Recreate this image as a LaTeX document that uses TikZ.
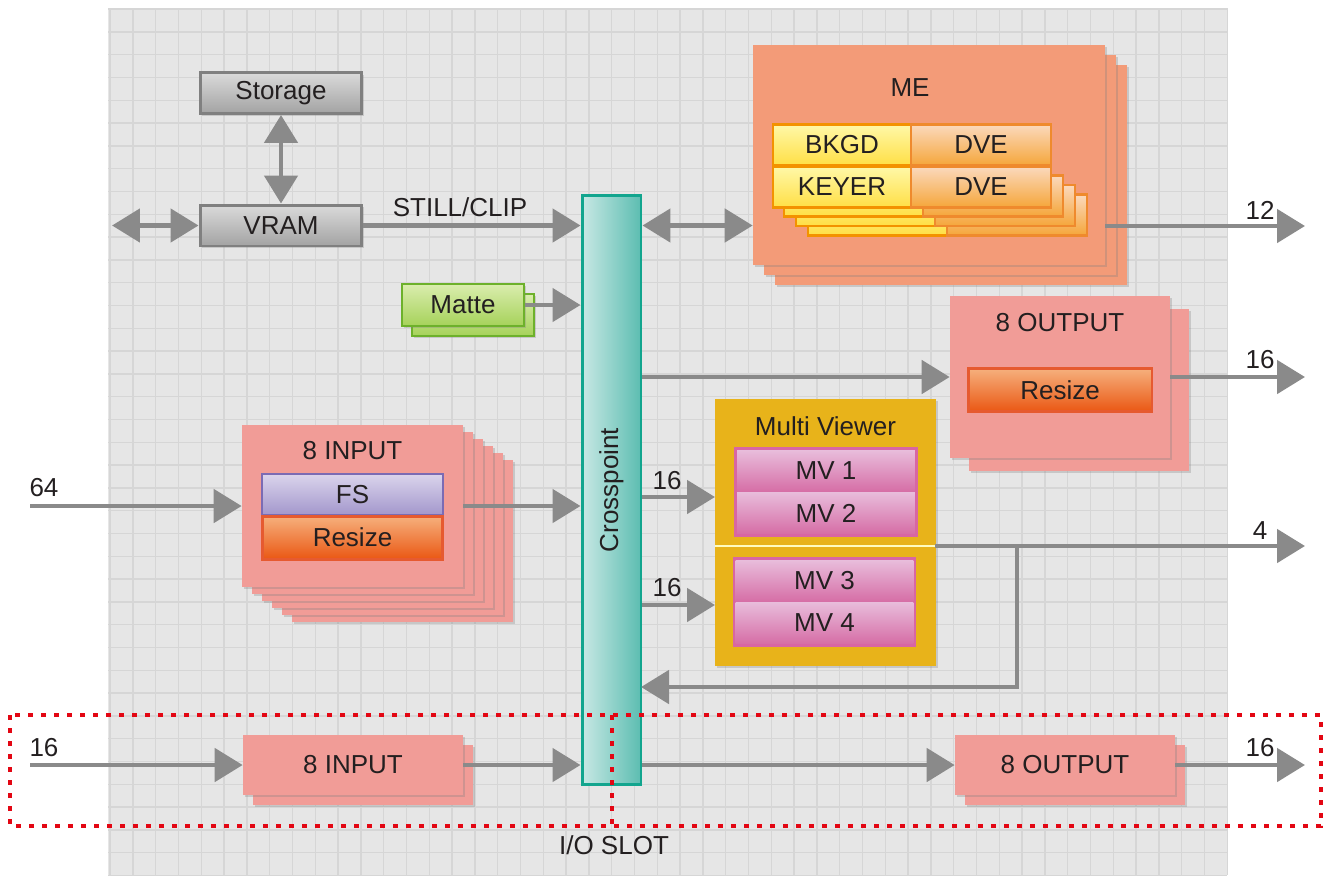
\documentclass[tikz,border=0pt]{standalone}
\usepackage{fontspec}
\setmainfont{Liberation Sans}
\usetikzlibrary{arrows.meta,shadows}
\definecolor{panel}{HTML}{E6E6E6}
\definecolor{gridc}{HTML}{D6D6D6}
\definecolor{ink}{HTML}{231F20}
\definecolor{arrgray}{HTML}{8A8A8A}
\definecolor{grayA}{HTML}{DADADA}
\definecolor{grayB}{HTML}{A3A3A3}
\definecolor{grayedge}{HTML}{808080}
\definecolor{xpA}{HTML}{C8E8E4}
\definecolor{xpB}{HTML}{5CBDB1}
\definecolor{xpedge}{HTML}{12A58E}
\definecolor{mefill}{HTML}{F39B78}
\definecolor{pinkfill}{HTML}{F19C97}
\definecolor{mvfill}{HTML}{E8B31A}
\definecolor{mvA}{HTML}{E8BCDB}
\definecolor{mvB}{HTML}{D66EA6}
\definecolor{mvedge}{HTML}{D866A3}
\definecolor{fsA}{HTML}{DAD4EC}
\definecolor{fsB}{HTML}{A397CC}
\definecolor{fsedge}{HTML}{7B6BB4}
\definecolor{rsA}{HTML}{F6B07D}
\definecolor{rsB}{HTML}{EA5814}
\definecolor{rsedge}{HTML}{E65A30}
\definecolor{keyA}{HTML}{FFF8A8}
\definecolor{keyB}{HTML}{FFDF45}
\definecolor{keyedge}{HTML}{F39200}
\definecolor{dveA}{HTML}{FBD9BD}
\definecolor{dveB}{HTML}{F5A63A}
\definecolor{dveedge}{HTML}{EF8A2D}
\definecolor{matA}{HTML}{DAEDAE}
\definecolor{matB}{HTML}{A6D25A}
\definecolor{matedge}{HTML}{6DB12B}
\definecolor{slotred}{HTML}{E30613}
\begin{document}
\begin{tikzpicture}[
	x=0.02cm, y=-0.02cm,
	font=\fontsize{14.8}{17}\selectfont,
	text=ink,
	every node/.style={inner sep=0pt},
	shd/.style={drop shadow={opacity=0.3,shadow xshift=1.3pt,shadow yshift=-1.3pt}},
	graybox/.style={draw=grayedge, line width=1.7pt, top color=grayA, bottom color=grayB, minimum width=3.24cm, minimum height=0.82cm, shd},
	xpbox/.style={draw=xpedge, line width=1.7pt, left color=xpA, right color=xpB, minimum width=1.18cm, minimum height=11.8cm},
	mecol/.style={fill=mefill, shd},
	pinkcol/.style={fill=pinkfill, shd},
	keycol/.style={draw=keyedge, line width=1.5pt, top color=keyA, bottom color=keyB},
	dvecol/.style={draw=dveedge, line width=1.5pt, top color=dveA, bottom color=dveB},
	cell/.style={minimum height=0.82cm},
	fsbox/.style={draw=fsedge, line width=1.5pt, top color=fsA, bottom color=fsB, minimum width=3.62cm, minimum height=0.82cm},
	rsbox/.style={draw=rsedge, line width=1.7pt, top color=rsA, bottom color=rsB, minimum height=0.86cm},
	matcol/.style={draw=matedge, line width=1.5pt, top color=matA, bottom color=matB},
	mvcell/.style={top color=mvA, bottom color=mvB, minimum width=3.56cm, minimum height=0.82cm},
	mvframe/.style={fill=mvedge, minimum width=3.68cm, minimum height=1.8cm},
	arr/.style={draw=arrgray, line width=2.8pt, -{Triangle[length=0.56cm,width=0.66cm]}},
	darr/.style={arr, {Triangle[length=0.56cm,width=0.66cm]}-{Triangle[length=0.56cm,width=0.66cm]}},
	wire/.style={draw=arrgray, line width=2.6pt},
	slot/.style={draw=slotred, line width=2.8pt, dash pattern=on 2.8pt off 4.6pt}
]
\fill[panel] (108,8) rectangle (1227,875);
\foreach \i in {0,...,49} \draw[gridc, line width=0.8pt] ({110+\i*22.8},8) -- ++(0,867);
\foreach \j in {0,...,38} \draw[gridc, line width=0.8pt] (108,{9+\j*22.8}) -- ++(1119,0);

\node[graybox] (storage) at (281,93) {Storage};
\node[graybox] (vram) at (281,225.5) {VRAM};

\node[xpbox] (xp) at (611.5,490) {};
\node[rotate=90] (xplabel) at (xp) {Crosspoint};

\foreach \k in {2,1} \fill[mecol] ({753+11*\k},{45+10*\k}) rectangle +(352,220);
\node[mecol, minimum width=7.04cm, minimum height=4.4cm] (me) at (929,155) {};
\node (melabel) at (910,88) {ME};
\foreach \k in {3,2,1} {
	\draw[keycol] ({772+12*\k},{166+9.5*\k}) rectangle +(139,41);
	\draw[dvecol] ({911+12*\k},{166+9.5*\k}) rectangle +(140,41);
}
\node[keycol, cell, minimum width=2.76cm] (bkgd) at (842,145) {BKGD};
\node[dvecol, cell, minimum width=2.8cm] (dveA) at (981,145) {DVE};
\node[keycol, cell, minimum width=2.76cm] (keyer) at (842,187) {KEYER};
\node[dvecol, cell, minimum width=2.8cm] (dveB) at (981,187) {DVE};

\draw[matcol, shd] (412,294) rectangle +(122,42);
\node[matcol, shd, minimum width=2.44cm, minimum height=0.84cm] (matte) at (463,305) {Matte};

\fill[pinkcol] (969,309) rectangle +(220,162);
\node[pinkcol, minimum width=4.4cm, minimum height=3.24cm] (outp) at (1060,377) {};
\node (outplabel) at (1060,323) {8 OUTPUT};
\node[rsbox, minimum width=3.68cm] (rszo) at (1060,390) {Resize};

\foreach \k in {5,4,...,1} \fill[pinkcol] ({242+10*\k},{425+7*\k}) rectangle +(221,162);
\node[pinkcol, minimum width=4.42cm, minimum height=3.24cm] (inp) at (352.5,506) {};
\node (inplabel) at (352.5,451) {8 INPUT};
\node[fsbox] (fs) at (352.5,494.5) {FS};
\node[rsbox, minimum width=3.62cm] (rszi) at (352.5,537.5) {Resize};

\node[fill=mvfill, shd, minimum width=4.42cm, minimum height=5.34cm] (mv) at (825.5,532.5) {};
\node (mvlabel) at (825.5,426) {Multi Viewer};
\node[mvframe] (mvtop) at (826,492) {};
\node[mvcell] (mv1) at (826,471) {MV 1};
\node[mvcell] (mv2) at (826,513) {MV 2};
\node[mvframe] (mvbot) at (824.5,602) {};
\node[mvcell] (mv3) at (824.5,581) {MV 3};
\node[mvcell] (mv4) at (824.5,623) {MV 4};
\coordinate (sepl) at (715,546);
\coordinate (sepr) at (935,546);
\draw[draw=yellow!25, line width=1.2pt] (sepl) -- (sepr);

\fill[pinkcol] (253,745) rectangle +(220,60);
\node[pinkcol, minimum width=4.4cm, minimum height=1.2cm] (bin) at (353,765) {8 INPUT};
\fill[pinkcol] (965,745) rectangle +(220,60);
\node[pinkcol, minimum width=4.4cm, minimum height=1.2cm] (bout) at (1065,765) {8 OUTPUT};

\coordinate (vin) at (112,225.5);
\coordinate (in64) at (30,506);
\coordinate (in16) at (30,765);
\coordinate (out12) at (1305,226);
\coordinate (out16) at (1305,377);
\coordinate (out4) at (1305,546);
\coordinate (outb) at (1305,765);
\coordinate (mvin1) at (715,497);
\coordinate (mvin2) at (715,605);
\coordinate (branch) at (1017,546);
\coordinate (fbk) at (641,687);

\draw[darr] (vin) -- (vram);
\draw[darr] (storage) -- (vram);
\draw[arr] (vram) -- (vram -| xp.west);
\draw[darr] (xp.east |- vram) -- (me.west |- vram);
\draw[arr] (me.east |- out12) -- (out12);
\draw[arr] (matte) -- (matte -| xp.west);
\draw[arr] (xp.east |- outp) -- (outp);
\draw[arr] (outp) -- (out16);
\draw[arr] (in64) -- (inp);
\draw[arr] (inp) -- (inp -| xp.west);
\draw[arr] (xp.east |- mvin1) -- (mvin1);
\draw[arr] (xp.east |- mvin2) -- (mvin2);
\draw[wire] (sepr) -- (branch);
\draw[arr] (branch) -- (out4);
\draw[arr] (branch) |- (fbk);
\draw[arr] (in16) -- (bin);
\draw[arr] (bin) -- (bin -| xp.west);
\draw[arr] (xp.east |- bout) -- (bout);
\draw[arr] (bout) -- (outb);

\node (stillclip) at (460,207) {STILL/CLIP};
\node (n12) at (1260,210) {12};
\node (n16a) at (1260,360) {16};
\node (n4) at (1260,531) {4};
\node (n16b) at (1260,748) {16};
\node (n64) at (44,488) {64};
\node (n16c) at (44,748) {16};
\node (n16d) at (667,481) {16};
\node (n16e) at (667,588) {16};

\draw[slot] (10,715) rectangle (1321,826);
\draw[slot] (612,715) -- (612,826);
\node (ioslot) at (614,845) {I/O SLOT};
\useasboundingbox (0,0) rectangle (1327,875);
\end{tikzpicture}
\end{document}
